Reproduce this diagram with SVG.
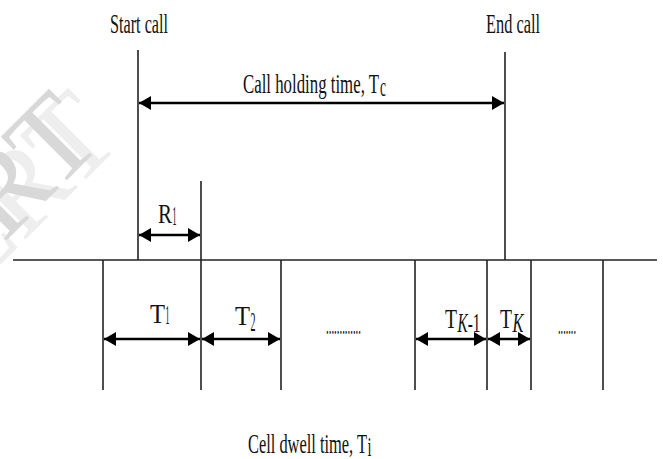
<svg xmlns="http://www.w3.org/2000/svg" width="663" height="459" viewBox="0 0 663 459">
<style>
.t{font-family:"Liberation Serif","Times New Roman",serif;font-size:27px;fill:#111}
.ln{stroke:#222;stroke-width:1.6;fill:none}
.ar{stroke:#000;stroke-width:2.6;fill:none;marker-start:url(#ah);marker-end:url(#ah)}
.wm{font-family:"Liberation Serif",serif;font-size:118px}
</style>
<defs>
<marker id="ah" markerUnits="userSpaceOnUse" markerWidth="13" markerHeight="14" refX="12" refY="7" orient="auto-start-reverse">
<path d="M0,0 L12,7 L0,14 Z" fill="#000"/>
</marker>
</defs>
<rect width="663" height="459" fill="#fff"/>
<g id="watermark">
<text class="wm" fill="#eeeeee" transform="translate(124,141) rotate(-45)" text-anchor="end">ERT</text>
<text class="wm" fill="#d8d8d8" transform="translate(105,142) rotate(-45)" text-anchor="end">ERT</text>
</g>
<g id="timeline">
<line class="ln" x1="13" y1="260" x2="657" y2="260" stroke-width="2.6"/>
</g>
<g id="start-call">
<line class="ln" x1="138" y1="50" x2="138" y2="260"/>
<text class="t" x="110" y="33" textLength="58" lengthAdjust="spacingAndGlyphs">Start call</text>
</g>
<g id="end-call">
<line class="ln" x1="505" y1="52" x2="505" y2="260"/>
<text class="t" x="486" y="33" textLength="54" lengthAdjust="spacingAndGlyphs">End call</text>
</g>
<g id="cell-boundaries">
<line class="ln" x1="201" y1="181" x2="201" y2="390"/>
<line class="ln" x1="103" y1="260" x2="103" y2="390"/>
<line class="ln" x1="281" y1="260" x2="281" y2="390"/>
<line class="ln" x1="415" y1="260" x2="415" y2="390"/>
<line class="ln" x1="487" y1="260" x2="487" y2="390"/>
<line class="ln" x1="531" y1="260" x2="531" y2="390"/>
<line class="ln" x1="603" y1="260" x2="603" y2="390"/>
</g>
<g id="connectors">
<line class="ar" x1="139" y1="103" x2="504" y2="103"/>
<line class="ar" x1="139" y1="235" x2="200" y2="235"/>
<line class="ar" x1="104" y1="339" x2="200" y2="339"/>
<line class="ar" x1="202" y1="339" x2="280" y2="339"/>
<line class="ar" x1="416" y1="339" x2="486" y2="339"/>
<line class="ar" x1="488" y1="339" x2="530" y2="339"/>
</g>
<g id="labels">
<text class="t" x="243" y="93" textLength="136" lengthAdjust="spacingAndGlyphs">Call holding time, T</text>
<text class="t" x="380" y="96" font-size="16" textLength="6" lengthAdjust="spacingAndGlyphs">c</text>
<text class="t" x="158" y="223" font-size="21" textLength="14" lengthAdjust="spacingAndGlyphs">R</text>
<text class="t" x="172.5" y="225" font-size="14" textLength="4" lengthAdjust="spacingAndGlyphs">1</text>
<text class="t" x="150" y="323" font-size="32" textLength="15" lengthAdjust="spacingAndGlyphs">T</text>
<text class="t" x="165.5" y="324" font-size="18" textLength="4" lengthAdjust="spacingAndGlyphs">1</text>
<text class="t" x="235" y="325" font-size="32" textLength="15" lengthAdjust="spacingAndGlyphs">T</text>
<text class="t" x="250.5" y="331" font-size="24" textLength="5" lengthAdjust="spacingAndGlyphs">2</text>
<text class="t" x="445" y="328" font-size="31" textLength="12" lengthAdjust="spacingAndGlyphs">T</text>
<text class="t" x="457.5" y="332" font-size="22" textLength="23" lengthAdjust="spacingAndGlyphs"><tspan font-style="italic">K</tspan>-1</text>
<text class="t" x="500" y="328" font-size="31" textLength="12" lengthAdjust="spacingAndGlyphs">T</text>
<text class="t" x="512.5" y="332" font-size="22" font-style="italic" textLength="11" lengthAdjust="spacingAndGlyphs">K</text>
<text class="t" x="326" y="334" font-size="12" textLength="35" lengthAdjust="spacingAndGlyphs">.............</text>
<text class="t" x="558" y="334" font-size="12" textLength="18" lengthAdjust="spacingAndGlyphs">.......</text>
<text class="t" x="248" y="453" textLength="119" lengthAdjust="spacingAndGlyphs">Cell dwell time, T</text>
<text class="t" x="367.5" y="456" font-size="16" textLength="4" lengthAdjust="spacingAndGlyphs">i</text>
</g>
</svg>
